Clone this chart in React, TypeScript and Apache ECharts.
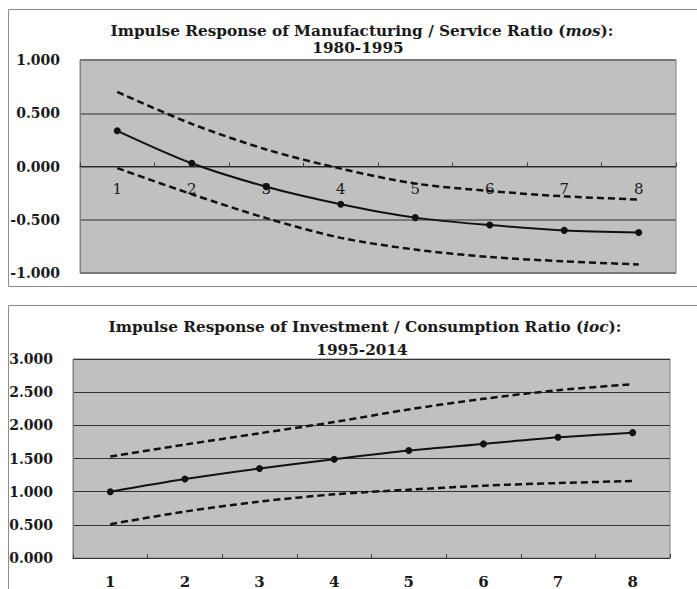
import React, { useEffect, useRef } from "react";
import * as echarts from "echarts";

const periods = ["1", "2", "3", "4", "5", "6", "7", "8"];
const yTicksTop = [-1, -0.5, 0, 0.5, 1];
const yTicksBottom = [0, 0.5, 1, 1.5, 2, 2.5, 3];

const mosResponse = [0.335, 0.03, -0.19, -0.354, -0.48, -0.55, -0.6, -0.62];
const mosUpper = [0.7, 0.4, 0.16, -0.02, -0.16, -0.23, -0.28, -0.31];
const mosLower = [-0.015, -0.26, -0.485, -0.67, -0.78, -0.85, -0.89, -0.92];

const iocResponse = [1.0, 1.19, 1.35, 1.49, 1.62, 1.72, 1.82, 1.89];
const iocUpper = [1.53, 1.71, 1.88, 2.05, 2.24, 2.4, 2.53, 2.62];
const iocLower = [0.51, 0.7, 0.85, 0.96, 1.03, 1.09, 1.13, 1.16];

const titleTop1a = "Impulse Response of Manufacturing / Service Ratio (";
const titleTop1b = "mos";
const titleTop1c = "):";
const titleTop2 = "1980-1995";
const titleBot1a = "Impulse Response of Investment / Consumption Ratio (";
const titleBot1b = "ioc";
const titleBot1c = "):";
const titleBot2 = "1995-2014";

const FONT = "DejaVu Serif";
const TITLE_SIZE = 15.3;

export default function App() {
  const ref = useRef<HTMLDivElement>(null);
  useEffect(() => {
    if (!ref.current) return;
    const chart = echarts.init(ref.current, null, { renderer: "svg" });
    const richStyle = {
      b: { fontFamily: FONT, fontWeight: "bold", fontSize: TITLE_SIZE, fill: "#1a1a1a" },
      i: { fontFamily: FONT, fontWeight: "bold", fontStyle: "italic", fontSize: TITLE_SIZE, fill: "#1a1a1a" },
    };
    const titleText = (x: number, y: number, a: string, b: string, c: string) => ({
      type: "text",
      x,
      y,
      style: {
        text: `{b|${a}}{i|${b}}{b|${c}}`,
        rich: richStyle,
        textAlign: "center",
        textVerticalAlign: "middle",
        fill: "#1a1a1a",
      },
    });
    const plainTitle = (x: number, y: number, t: string) => ({
      type: "text",
      x,
      y,
      style: {
        text: t,
        font: `bold ${TITLE_SIZE}px "${FONT}"`,
        textAlign: "center",
        textVerticalAlign: "middle",
        fill: "#1a1a1a",
      },
    });
    const fmt = (v: number) => v.toFixed(3);
    const yAxisBase = {
      type: "value",
      interval: 0.5,
      axisLine: { show: true, lineStyle: { color: "#808080", width: 1 } },
      axisTick: { show: false },
      axisLabel: {
        formatter: fmt,
        fontFamily: FONT,
        fontWeight: "bold",
        fontSize: 14,
        color: "#1a1a1a",
        margin: 20,
      },
    };
    const xAxisBase = {
      type: "category",
      data: periods,
      boundaryGap: true,
      position: "bottom",
      axisTick: { show: true, inside: true, length: 4, lineStyle: { color: "#404040" } },
    };
    const dashed = (data: number[], xi: number) => ({
      type: "line",
      xAxisIndex: xi,
      yAxisIndex: xi,
      data,
      symbol: "none",
      smooth: 0.3,
      lineStyle: { color: "#111", width: 2.5, type: [7, 4] },
    });
    const solid = (data: number[], xi: number) => ({
      type: "line",
      xAxisIndex: xi,
      yAxisIndex: xi,
      data,
      symbol: "circle",
      symbolSize: 7,
      smooth: 0.3,
      itemStyle: { color: "#111" },
      lineStyle: { color: "#111", width: 2 },
    });
    chart.setOption({
      animation: false,
      backgroundColor: "#ffffff",
      graphic: [
        { type: "rect", shape: { x: 8.5, y: 9.5, width: 700, height: 277 }, style: { fill: "none", stroke: "#8c8c8c", lineWidth: 1 } },
        { type: "rect", shape: { x: 8.5, y: 305.5, width: 700, height: 300 }, style: { fill: "none", stroke: "#8c8c8c", lineWidth: 1 } },
        titleText(362, 31, titleTop1a, titleTop1b, titleTop1c),
        plainTitle(358, 48, titleTop2),
        titleText(365, 327, titleBot1a, titleBot1b, titleBot1c),
        plainTitle(362, 350, titleBot2),
      ],
      grid: [
        { left: 80, top: 60, width: 596, height: 213, show: true, backgroundColor: "#c0c0c0", borderColor: "#808080", borderWidth: 1 },
        { left: 73, top: 359, width: 597, height: 199, show: true, backgroundColor: "#c0c0c0", borderColor: "#808080", borderWidth: 1 },
      ],
      xAxis: [
        {
          ...xAxisBase,
          gridIndex: 0,
          offset: -106.5,
          axisLine: { show: true, onZero: false, lineStyle: { color: "#2a2a2a", width: 1.2 } },
          axisLabel: { fontFamily: FONT, fontSize: 15, color: "#1a1a1a", margin: 15 },
        },
        {
          ...xAxisBase,
          gridIndex: 1,
          axisLine: { show: true, onZero: false, lineStyle: { color: "#333", width: 1 } },
          axisLabel: { fontFamily: FONT, fontWeight: "bold", fontSize: 15, color: "#1a1a1a", margin: 16 },
        },
      ],
      yAxis: [
        {
          ...yAxisBase,
          gridIndex: 0,
          min: yTicksTop[0],
          max: yTicksTop[yTicksTop.length - 1],
          splitLine: { show: true, lineStyle: { color: "#777777", width: 2 } },
        },
        {
          ...yAxisBase,
          gridIndex: 1,
          min: yTicksBottom[0],
          max: yTicksBottom[yTicksBottom.length - 1],
          splitLine: { show: true, lineStyle: { color: "#333333", width: 1 } },
        },
      ],
      series: [
        dashed(mosUpper, 0),
        dashed(mosLower, 0),
        solid(mosResponse, 0),
        dashed(iocUpper, 1),
        dashed(iocLower, 1),
        solid(iocResponse, 1),
      ],
    });
    return () => chart.dispose();
  }, []);
  return (
    <div
      ref={ref}
      style={{ position: "fixed", left: 0, top: 0, width: 697, height: 589, background: "#fff" }}
    />
  );
}
